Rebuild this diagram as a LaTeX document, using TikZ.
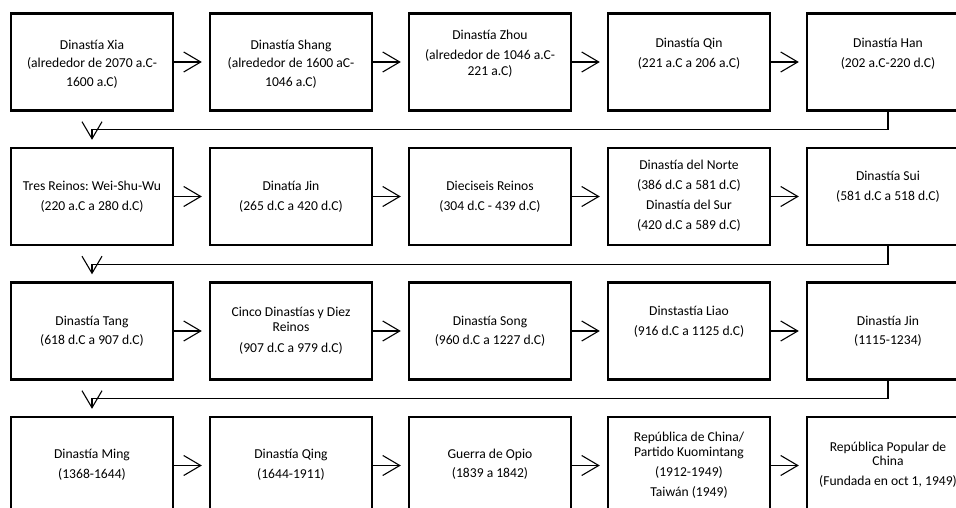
\documentclass[tikz,border=0pt]{standalone}
\usepackage{fontspec}
\setmainfont{Carlito}
\usetikzlibrary{positioning,arrows.meta}
\frenchspacing

\begin{document}
\begin{tikzpicture}[x=1pt,y=-1pt,
    caja/.style={draw,line width=2.4pt,minimum width=162pt,minimum height=97pt,inner sep=0pt},
    texto/.style={anchor=north,inner sep=0pt,align=center,font=\fontsize{13.6}{16.5}\selectfont},
    flecha/.style={line width=1.1pt,-{Straight Barb[length=17pt,width=20pt]},shorten >=7pt}]
  \useasboundingbox (0,0) rectangle (956,508);
  \clip (0,0) rectangle (956,508);

  \foreach \n/\x/\y in {xia/92/62, shang/291/62, zhou/490/62, qin/689/62, han/888/62,
      tres/92/196.5, jin/291/196.5, dieciseis/490/196.5, nortesur/689/196.5, sui/888/196.5,
      tang/92/331, cinco/291/331, song/490/331, liao/689/331, jinb/888/331,
      ming/92/465.5, qing/291/465.5, opio/490/465.5, roc/689/465.5, prc/888/465.5} {
    \node[caja] (\n) at (\x,\y) {};
  }

  \node[texto, below=25pt of xia.north] (xia-t) {\strut Dinastía Xia\\[2pt](alrededor de 2070 a.C-\\[2pt]1600 a.C)};
  \node[texto, below=25pt of shang.north] (shang-t) {\strut Dinastía Shang\\[2pt](alrededor de 1600 aC-\\[2pt]1046 a.C)};
  \node[texto, below=15pt of zhou.north] (zhou-t) {\strut Dinastía Zhou\\[3.5pt](alrededor de 1046 a.C-\\[0.3pt]221 a.C)};
  \node[texto, below=23pt of qin.north] (qin-t) {\strut Dinastía Qin\\[3.5pt](221 a.C a 206 a.C)};
  \node[texto, below=23pt of han.north] (han-t) {\strut Dinastía Han\\[3.5pt](202 a.C-220 d.C)};

  \node[texto, below=32pt of tres.north] (tres-t) {\strut Tres Reinos: Wei-Shu-Wu\\[3.5pt](220 a.C a 280 d.C)};
  \node[texto, below=32pt of jin.north] (jin-t) {\strut Dinatía Jin\\[3.5pt](265 d.C a 420 d.C)};
  \node[texto, below=32pt of dieciseis.north] (dieciseis-t) {\strut Dieciseis Reinos\\[3.5pt](304 d.C - 439 d.C)};
  \node[texto, below=11pt of nortesur.north] (nortesur-t) {\strut Dinastía del Norte\\[3.5pt](386 d.C a 581 d.C)\\[3.5pt]Dinastía del Sur\\[3.5pt](420 d.C a 589 d.C)};
  \node[texto, below=22pt of sui.north] (sui-t) {\strut Dinastía Sui\\[3.5pt](581 d.C a 518 d.C)};

  \node[texto, below=32.5pt of tang.north] (tang-t) {\strut Dinastía Tang\\[2.5pt](618 d.C a 907 d.C)};
  \node[texto, below=23.5pt of cinco.north] (cinco-t) {\strut Cinco Dinastías y Diez\\[-1.5pt]Reinos\\[4.5pt](907 d.C a 979 d.C)};
  \node[texto, below=32.5pt of song.north] (song-t) {\strut Dinastía Song\\[2.5pt](960 d.C a 1227 d.C)};
  \node[texto, below=22.5pt of liao.north] (liao-t) {\strut Dinstastía Liao\\[3.5pt](916 d.C a 1125 d.C)};
  \node[texto, below=32.5pt of jinb.north] (jinb-t) {\strut Dinastía Jin\\[2.5pt](1115-1234)};

  \node[texto, below=31pt of ming.north] (ming-t) {\strut Dinastía Ming\\[3.5pt](1368-1644)};
  \node[texto, below=31pt of qing.north] (qing-t) {\strut Dinastía Qing\\[3.5pt](1644-1911)};
  \node[texto, below=31pt of opio.north] (opio-t) {\strut Guerra de Opio\\[2.5pt](1839 a 1842)};
  \node[texto, below=14pt of roc.north] (roc-t) {\strut República de China/\\[-1.5pt]Partido Kuomintang\\[3.5pt](1912-1949)\\[3.5pt]Taiwán (1949)};
  \node[texto, below=24pt of prc.north] (prc-t) {\strut República Popular de\\[-2.5pt]China\\[3.5pt](Fundada en oct 1, 1949)};

  \foreach \a/\b in {xia/shang, shang/zhou, zhou/qin, qin/han,
      tres/jin, jin/dieciseis, dieciseis/nortesur, nortesur/sui,
      tang/cinco, cinco/song, song/liao, liao/jinb,
      ming/qing, qing/opio, opio/roc, roc/prc} {
    \draw[flecha] (\a) -- (\b);
  }

  \draw[flecha] (han.south) -- ++(0,18) -| (tres);
  \draw[flecha] (sui.south) -- ++(0,18) -| (tang);
  \draw[flecha] (jinb.south) -- ++(0,18) -| (ming);
\end{tikzpicture}
\end{document}
